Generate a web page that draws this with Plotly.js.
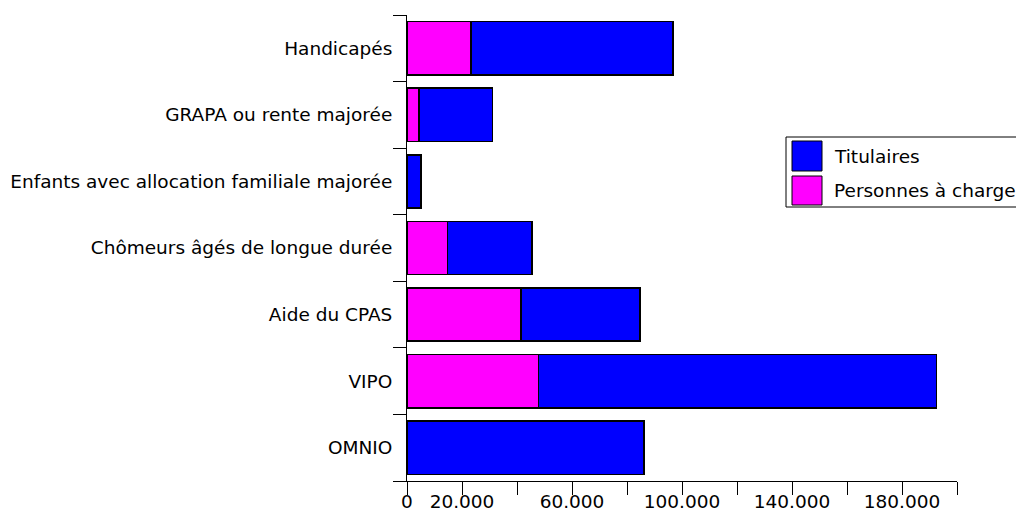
<!DOCTYPE html>
<html>
<head>
<meta charset="utf-8">
<script src="https://cdn.plot.ly/plotly-3.0.1.min.js"></script>
<style>html,body{margin:0;padding:0;background:#fff;}#chart{width:1016px;height:515px;}</style>
</head>
<body>
<div id="chart"></div>
<script>
// ---- data (bottom to top) ----
const categories = ["OMNIO", "VIPO", "Aide du CPAS", "Chômeurs âgés de longue durée",
  "Enfants avec allocation familiale majorée", "GRAPA ou rente majorée", "Handicapés"];
const seriesNames = ["Titulaires", "Personnes à charge"];
const titulaires = [86200, 144700, 43300, 30700, 5000, 26700, 73600];
const personnesACharge = [0, 47900, 41500, 14700, 0, 4400, 23200];
const xTickVals = [0, 20000, 40000, 60000, 80000, 100000, 120000, 140000, 160000, 180000, 200000];
const xTickText = ["0", "20.000", "", "60.000", "", "100.000", "", "140.000", "", "180.000", ""];
const colors = ["#0000ff", "#ff00ff"];

// ---- layout geometry ----
const W = 1016, H = 515;
const M = {l: 407, r: 59, t: 15, b: 34};
const plotW = W - M.l - M.r, plotH = H - M.t - M.b;
const px = x => (x - M.l) / plotW;
const py = y => (H - M.b - y) / plotH;
const font = {family: "DejaVu Sans, Verdana, sans-serif", size: 18.5, color: "#000"};

const traces = [
  {type: "bar", orientation: "h", name: seriesNames[1], y: categories, x: personnesACharge,
   marker: {color: colors[1], line: {color: "#000", width: 1.5}}, showlegend: false},
  {type: "bar", orientation: "h", name: seriesNames[0], y: categories, x: titulaires,
   marker: {color: colors[0], line: {color: "#000", width: 1.5}}, showlegend: false}
];

// custom legend (large square swatches like the reference)
const shapes = [
  {type: "rect", xref: "paper", yref: "paper", x0: px(786), x1: px(1040), y0: py(207), y1: py(137),
   line: {color: "#000", width: 1}, fillcolor: "#fff", layer: "above"}
];
const annotations = [];
const legendRows = [{top: 141, bottom: 171}, {top: 176, bottom: 205}];
seriesNames.forEach((name, i) => {
  const r = legendRows[i];
  shapes.push({type: "rect", xref: "paper", yref: "paper", x0: px(792), x1: px(822),
    y0: py(r.bottom), y1: py(r.top), fillcolor: colors[i], line: {color: "#000", width: 1}, layer: "above"});
  annotations.push({xref: "paper", yref: "paper", x: px(832), y: py((r.top + r.bottom) / 2),
    xanchor: "left", yanchor: "middle", text: name, showarrow: false, font: font});
});

const layout = {
  width: W, height: H,
  margin: M,
  paper_bgcolor: "#fff", plot_bgcolor: "#fff",
  barmode: "stack", bargap: 0.2,
  font: font,
  showlegend: false,
  xaxis: {range: [0, 200000], tickvals: xTickVals, ticktext: xTickText,
    ticks: "outside", ticklen: 13, tickwidth: 1, tickcolor: "#000",
    showline: true, linecolor: "#000", linewidth: 1, showgrid: false, zeroline: false,
    tickfont: font, ticklabelstandoff: -9, fixedrange: true},
  yaxis: {type: "category", categoryorder: "array", categoryarray: categories,
    ticks: "outside", ticklen: 13, tickwidth: 1, tickcolor: "#000", tickson: "boundaries",
    showline: true, linecolor: "#000", linewidth: 1, showgrid: false, zeroline: false,
    tickfont: font, ticklabelstandoff: 10, fixedrange: true},
  shapes: shapes,
  annotations: annotations
};

Plotly.newPlot("chart", traces, layout, {displayModeBar: false, staticPlot: true});
</script>
</body>
</html>
